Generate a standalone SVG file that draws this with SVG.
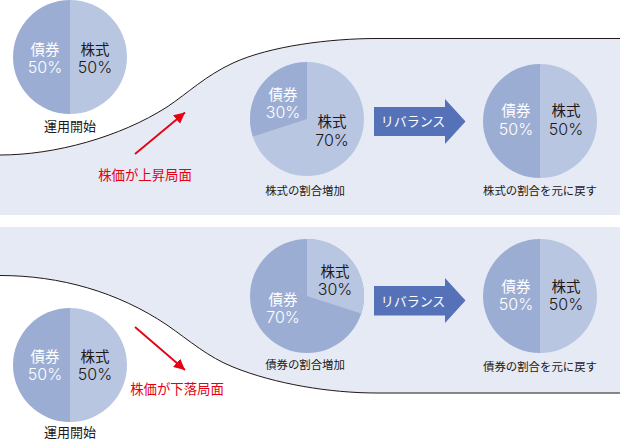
<svg xmlns="http://www.w3.org/2000/svg" width="620" height="440" viewBox="0 0 620 440">
<style>
text{font-family:"Noto Sans CJK JP","Noto Sans",sans-serif;text-anchor:middle}
.b{fill:#9cadd4}.s{fill:#b9c6e2}
.outline{fill:none;stroke:#231815;stroke-width:1}
.w{fill:#fff;font-size:14.500px}.d{fill:#231815;font-size:14.500px}
.wn,.dn{font-family:"Inter","Open Sans",sans-serif;font-weight:300;font-size:16px}
.wn{fill:#fff}.dn{fill:#231815}
.cap{fill:#231815;font-size:11.400px}.cap2{fill:#231815;font-size:13px}
.red{fill:#e60012;font-size:13.400px}
.rb{fill:#fff;font-size:13px}
.ra{fill:#5572b8}
.rl{stroke:#e60012;stroke-width:1.800;fill:none}
</style>
<defs>
<marker id="ah" markerUnits="userSpaceOnUse" markerWidth="14" markerHeight="14" refX="11" refY="5.500" orient="auto"><path d="M0,0L11,5.500L0,11Z" fill="#e60012"/></marker>
</defs>
<g id="panels">
<path id="panel-top" d="M0,155C55,155 120,137 167,107C188,93 205,76 233,63C270,46 330,38.500 377,38.500H620V215H0Z" fill="#e5eaf5"/>
<path id="panel-bottom" d="M0,227H620V393H377C330,393 275,384 233,367C208,357 190,341 167,325C118,292 60,275.500 0,275.500Z" fill="#e5eaf5"/>
</g>
<g id="connectors">
<path class="outline" d="M0,155C55,155 120,137 167,107C188,93 205,76 233,63C270,46 330,38.500 377,38.500H620"/>
<path class="outline" d="M0,275.500C60,275.500 118,292 167,325C190,341 208,357 233,367C275,384 330,393 377,393H620"/>
<path class="rl" marker-end="url(#ah)" d="M135,154L185,112.500"/>
<path class="rl" marker-end="url(#ah)" d="M135,327L185,370"/>
</g>
<g id="pie-top-start">
<path class="b" d="M70,0A57,57 0 0 0 70,114Z"/><path class="s" d="M70,0A57,57 0 0 1 70,114Z"/>
<text class="w" x="45" y="55">債券</text><text class="wn" x="45" y="73">50%</text>
<text class="d" x="95" y="55">株式</text><text class="dn" x="95" y="73">50%</text>
<text class="cap2" x="70" y="131">運用開始</text>
</g>
<g id="label-up"><text class="red" x="145" y="180">株価が上昇局面</text></g>
<g id="pie-top-mid">
<circle class="s" cx="307" cy="119" r="57"/><path class="b" d="M307,119L252.800,136.600A57,57 0 0 1 307,62Z"/>
<text class="w" x="283" y="100">債券</text><text class="wn" x="283" y="118">30%</text>
<text class="d" x="332" y="127">株式</text><text class="dn" x="332" y="146">70%</text>
<text class="cap" x="305" y="195">株式の割合増加</text>
</g>
<g id="arrow-top">
<path class="ra" d="M374,107H445V99L465.500,121.500L445,144V136H374Z"/>
<text class="rb" x="413" y="126">リバランス</text>
</g>
<g id="pie-top-end">
<path class="b" d="M540,64A57,57 0 0 0 540,178Z"/><path class="s" d="M540,64A57,57 0 0 1 540,178Z"/>
<text class="w" x="516" y="116">債券</text><text class="wn" x="516" y="135">50%</text>
<text class="d" x="566" y="116">株式</text><text class="dn" x="566" y="135">50%</text>
<text class="cap" x="540" y="195">株式の割合を元に戻す</text>
</g>
<g id="pie-bottom-mid">
<circle class="b" cx="307" cy="296" r="57"/><path class="s" d="M307,296V239A57,57 0 0 1 361.200,313.600Z"/>
<text class="d" x="335" y="277">株式</text><text class="dn" x="335" y="295">30%</text>
<text class="w" x="283" y="305">債券</text><text class="wn" x="283" y="323">70%</text>
<text class="cap" x="305" y="369">債券の割合増加</text>
</g>
<g id="arrow-bottom">
<path class="ra" d="M374,286H445V278L465.500,300.500L445,323V315.500H374Z"/>
<text class="rb" x="413" y="306">リバランス</text>
</g>
<g id="pie-bottom-end">
<path class="b" d="M540,239A57,57 0 0 0 540,353Z"/><path class="s" d="M540,239A57,57 0 0 1 540,353Z"/>
<text class="w" x="516" y="292">債券</text><text class="wn" x="516" y="310">50%</text>
<text class="d" x="566" y="292">株式</text><text class="dn" x="566" y="310">50%</text>
<text class="cap" x="540" y="371">債券の割合を元に戻す</text>
</g>
<g id="pie-bottom-start">
<path class="b" d="M70,308A57,57 0 0 0 70,422Z"/><path class="s" d="M70,308A57,57 0 0 1 70,422Z"/>
<text class="w" x="45" y="362">債券</text><text class="wn" x="45" y="380">50%</text>
<text class="d" x="95" y="362">株式</text><text class="dn" x="95" y="380">50%</text>
<text class="cap2" x="70" y="437">運用開始</text>
</g>
<g id="label-down"><text class="red" x="177" y="394">株価が下落局面</text></g>
</svg>
